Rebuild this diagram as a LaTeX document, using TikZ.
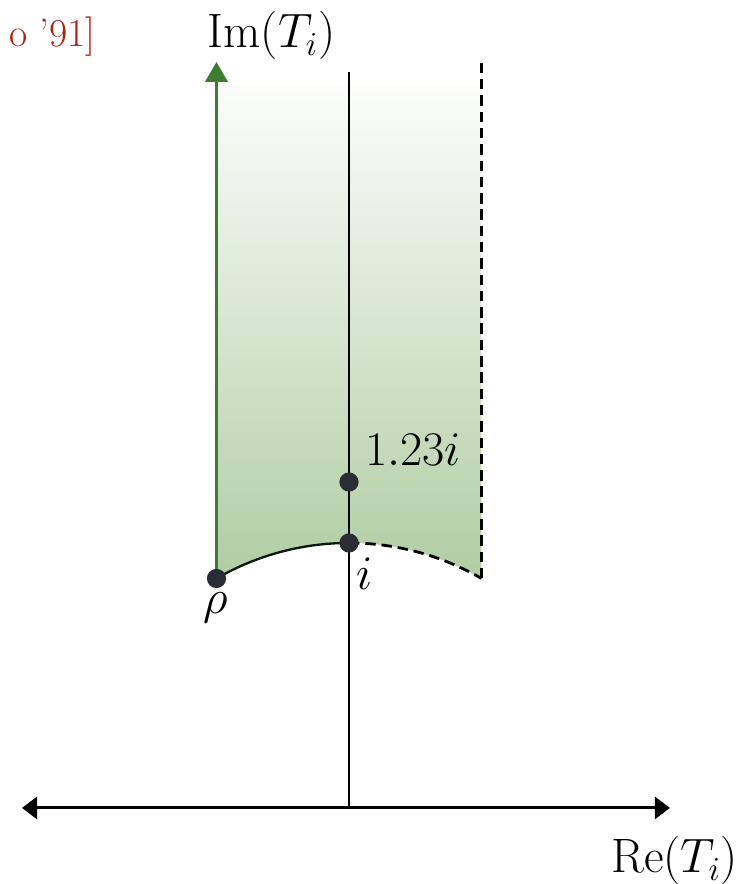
\documentclass[tikz,border=0pt]{standalone}
\usetikzlibrary{arrows.meta}
\definecolor{regiongreen}{RGB}{176,205,163}
\definecolor{arrowgreen}{RGB}{62,124,48}
\definecolor{dotgray}{RGB}{42,45,53}
\definecolor{citered}{RGB}{178,34,19}
\begin{document}
\begin{tikzpicture}[x=4cm,y=4cm,every node/.style={font=\fontsize{22}{26}\selectfont,inner sep=0pt},
    pt/.style={circle,fill=dotgray,inner sep=0pt,minimum size=0.29cm},
    edge/.style={line width=1.2pt,dash pattern=on 4.5pt off 2.5pt}]

    % Frame of the reference
    \useasboundingbox (-1.317,-0.287) rectangle (1.491,3.049);

    % Parameters
    \def\top{2.728}
    \def\tip{2.815}

    % Special points
    \coordinate (rho) at (120:1);
    \coordinate (iu) at (90:1);
    \coordinate (rr) at (60:1);
    \coordinate (o) at (0,0);

    % Shaded fundamental domain
    \shade[top color=regiongreen!4, bottom color=regiongreen]
        (rho) arc (120:60:1) -- (0.5,\top) -- (-0.5,\top) -- cycle;

    % Boundary of the domain
    \draw[edge] (rr) -- (0.5,\tip);
    \draw[line width=1pt, black!80!arrowgreen] (rho) arc (120:90:1);
    \draw[edge] (iu) arc (90:60:1);

    % Axes
    \draw[line width=0.8pt] (o) -- (0,2.777);
    \draw[{Triangle[length=6.5pt,width=9.5pt]}-{Triangle[length=6.5pt,width=9.5pt]}, line width=1.3pt]
        (-1.234,0) -- (1.211,0);
    \draw[-{Triangle[length=8.5pt,width=9.5pt]}, line width=1.3pt, arrowgreen] (rho) -- (-0.5,\tip);

    % Points
    \node[pt] (nrho) at (rho) {};
    \node[pt] (ni) at (iu) {};
    \node[pt] (nc) at (0,1.23) {};

    % Labels
    \node[anchor=base] (lim) at (-0.292,2.868) {$\mathrm{Im}(T_i)$};
    \node[anchor=base east] (lre) at (1.47,-0.245) {$\mathrm{Re}(T_i)$};
    \node[anchor=base west] (lc) at (0.06,1.294) {$1.23i$};
    \node[anchor=base] (li) at (0.057,0.823) {$i$};
    \node[anchor=base] (lrho) at (-0.502,0.732) {$\rho$};
    \node[anchor=base east, text=citered, font=\fontsize{17}{20}\selectfont] (cite) at (-0.955,2.872) {o ’91]};

\end{tikzpicture}
\end{document}
